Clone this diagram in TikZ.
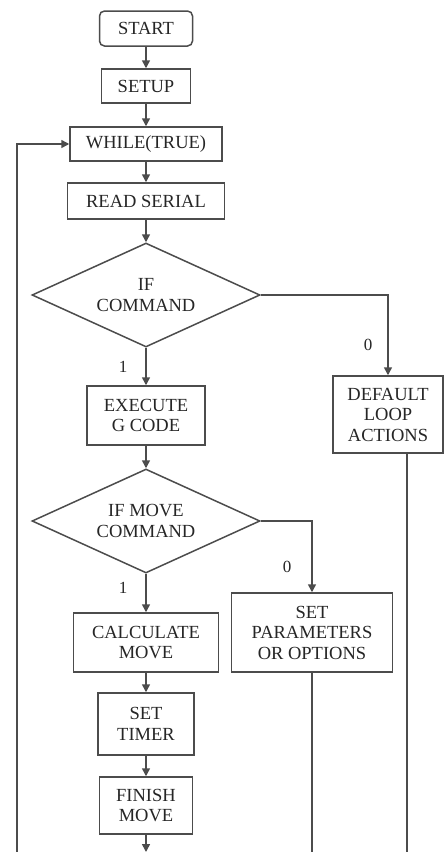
\documentclass[tikz,border=0pt]{standalone}
\usepackage{fontspec}
\setmainfont{Liberation Serif}
\usetikzlibrary{shapes.geometric,arrows.meta}
\begin{document}
\begin{tikzpicture}[x=1pt,y=-1pt,
  every node/.style={font=\fontsize{18.5}{20.5}\selectfont, text=black!85},
  box/.style={draw=black!70, line width=1.5pt, rectangle, align=center, inner sep=0pt},
  dec/.style={draw=black!70, line width=1.5pt, diamond, aspect=2.19, inner sep=0pt, align=center, minimum width=228, minimum height=104},
  conn/.style={draw=black!70, line width=1.5pt},
  arr/.style={conn, -{Triangle[width=8pt,length=8pt]}},
  lbl/.style={font=\fontsize{17}{19}\selectfont}
]
\fill[white] (0,0) rectangle (446,852);
\useasboundingbox (0,0) rectangle (446,852);

\node[box, rounded corners=5pt, minimum width=93, minimum height=35] (start) at (146,28.5) {START};
\node[box, minimum width=89, minimum height=34] (setup) at (146,86) {SETUP};
\node[box, minimum width=152, minimum height=34] (while) at (146,144) {WHILE(TRUE)};
\node[box, minimum width=157, minimum height=36] (read) at (146,201) {READ SERIAL};
\node[dec] (ifcmd) at (146,295) {IF\\COMMAND};
\node[box, minimum width=118, minimum height=59] (exec) at (146,415.5) {EXECUTE\\G CODE};
\node[box, minimum width=110, minimum height=77] (default) at (388,414.5) {DEFAULT\\LOOP\\ACTIONS};
\node[dec] (ifmove) at (146,521) {IF MOVE\\COMMAND};
\node[box, minimum width=145, minimum height=59] (calc) at (146,642.5) {CALCULATE\\MOVE};
\node[box, minimum width=161, minimum height=79] (setparam) at (312,632.5) {SET\\PARAMETERS\\OR OPTIONS};
\node[box, minimum width=96, minimum height=62] (timer) at (146,724) {SET\\TIMER};
\node[box, minimum width=93, minimum height=57] (finish) at (146,805.5) {FINISH\\MOVE};

\node[lbl] (l0a) at (368,345) {0};
\node[lbl] (l1a) at (123,367) {1};
\node[lbl] (l0b) at (287,567) {0};
\node[lbl] (l1b) at (123,588) {1};

\coordinate (lb) at (17,852);
\coordinate (fb) at (146,852);
\coordinate (pb) at (312,852);
\coordinate (db) at (407,852);

\draw[arr] (start) -- (setup);
\draw[arr] (setup) -- (while);
\draw[arr] (while) -- (read);
\draw[arr] (read) -- (ifcmd);
\draw[arr] (ifcmd) -- (exec);
\draw[arr] (ifcmd) -| (default);
\draw[arr] (exec) -- (ifmove);
\draw[arr] (ifmove) -- (calc);
\draw[arr] (ifmove) -| (setparam);
\draw[arr] (calc) -- (timer);
\draw[arr] (timer) -- (finish);
\draw[arr] (finish) -- (fb);
\draw[conn] (setparam) -- (pb);
\draw[conn] (default.south -| db) -- (db);
\draw[arr] (lb) |- (while);
\end{tikzpicture}
\end{document}
